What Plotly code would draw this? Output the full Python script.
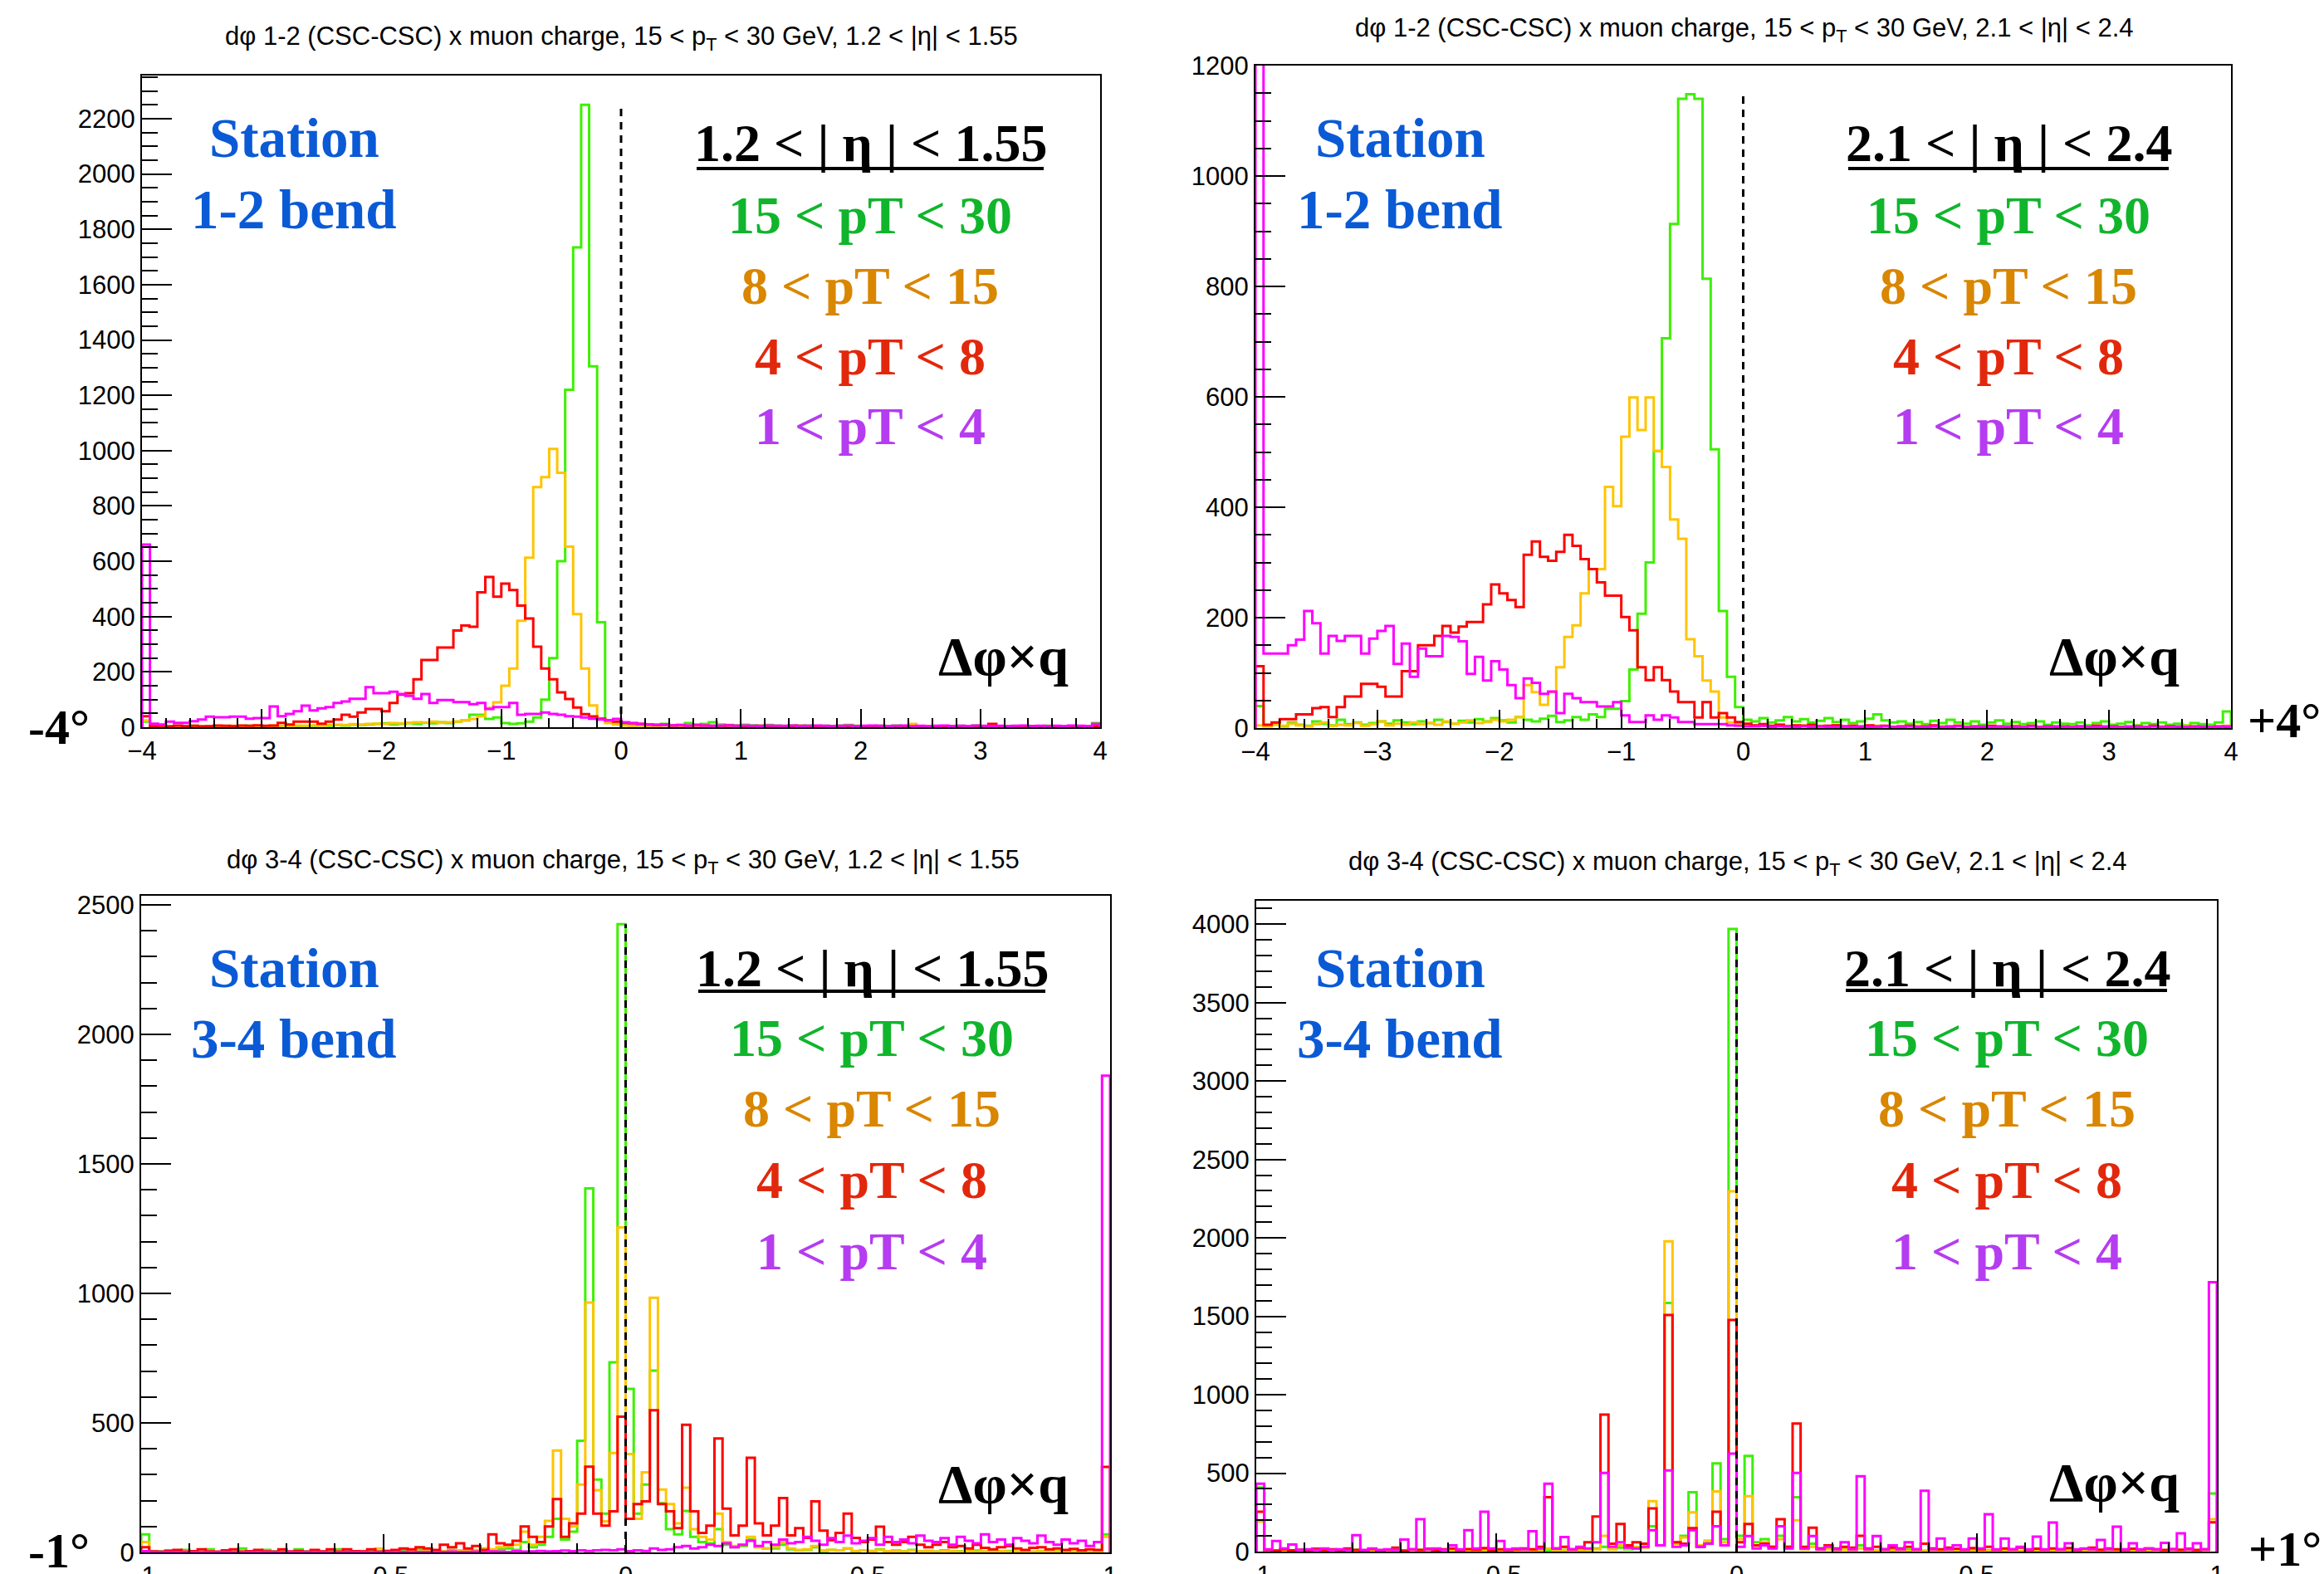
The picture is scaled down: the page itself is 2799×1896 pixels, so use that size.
import numpy as np
import plotly.graph_objects as go

W, H = 2799, 1896

# ---------------- data (120 bins per histogram) ----------------
# top row: d(phi) 1-2, range -4..4 ; bottom row: d(phi) 3-4, range -1..1
TL_GREEN = [20, 3, 2, 4, 3, 2, 5, 3, 2, 3, 4, 2, 3, 5, 3, 4, 3, 2, 4, 3,
            4, 5, 6, 5, 8, 6, 9, 8, 10, 12, 14, 10, 12, 15, 12, 16, 14, 18, 15, 20,
            25, 45, 45, 30, 35, 15, 12, 14, 20, 35, 100, 250, 600, 1220, 1735, 2250, 1305, 380, 25, 12,
            8, 6, 10, 5, 7, 12, 6, 8, 15, 9, 12, 18, 10, 8, 6, 9, 7, 5, 8, 6,
            4, 7, 5, 6, 3, 5, 4, 6, 8, 5, 4, 3, 5, 4, 6, 3, 5, 4, 3, 2,
            4, 3, 5, 3, 6, 4, 3, 2, 4, 3, 2, 4, 3, 5, 2, 3, 4, 2, 3, 15]
TL_ORANGE = [25, 2, 3, 2, 4, 3, 2, 3, 4, 2, 3, 5, 4, 3, 5, 4, 6, 5, 4, 6,
             5, 7, 6, 8, 9, 8, 11, 10, 12, 13, 12, 15, 14, 16, 18, 17, 20, 16, 18, 20,
             25, 30, 40, 70, 90, 150, 212, 385, 613, 868, 904, 1006, 920, 653, 409, 212, 79, 31, 15, 10,
             6, 4, 5, 3, 4, 6, 3, 5, 4, 3, 5, 4, 2, 3, 4, 3, 2, 4, 3, 2,
             3, 4, 2, 3, 5, 2, 3, 2, 4, 3, 2, 3, 2, 4, 2, 3, 12, 2, 3, 2,
             3, 2, 4, 2, 3, 2, 3, 2, 2, 3, 2, 4, 2, 3, 2, 2, 3, 2, 2, 5]
TL_RED = [40, 4, 5, 3, 6, 4, 5, 3, 4, 6, 5, 4, 6, 5, 7, 5, 6, 16, 10, 20,
          20, 20, 13, 20, 28, 45, 38, 53, 66, 66, 58, 88, 118, 123, 173, 243, 243, 288, 288, 350,
          368, 363, 488, 543, 472, 519, 496, 440, 393, 291, 212, 173, 126, 102, 71, 47, 39, 31, 25, 20,
          16, 14, 12, 10, 8, 9, 6, 7, 5, 8, 6, 5, 4, 6, 5, 4, 3, 5, 4, 3,
          4, 3, 5, 3, 4, 2, 3, 4, 2, 3, 4, 2, 3, 2, 4, 3, 2, 3, 2, 3,
          2, 3, 4, 2, 3, 2, 12, 3, 2, 3, 2, 4, 2, 3, 2, 2, 3, 2, 2, 4]
TL_MAGENTA = [660, 13, 10, 20, 16, 16, 22, 28, 38, 36, 36, 38, 38, 31, 33, 33, 75, 40, 48, 58,
              78, 61, 68, 73, 88, 93, 103, 103, 145, 123, 123, 128, 120, 113, 103, 120, 88, 98, 98, 91,
              91, 83, 88, 66, 73, 73, 88, 45, 48, 48, 53, 48, 45, 40, 38, 35, 31, 28, 25, 30,
              18, 15, 12, 10, 9, 8, 7, 8, 6, 7, 6, 5, 6, 7, 5, 6, 5, 4, 6, 5,
              5, 6, 4, 5, 6, 5, 4, 5, 6, 4, 5, 6, 5, 4, 5, 6, 4, 5, 4, 5,
              6, 4, 5, 4, 6, 5, 4, 5, 4, 5, 6, 4, 5, 4, 5, 4, 6, 5, 4, 12]

TR_GREEN = [40, 5, 8, 3, 10, 6, 4, 12, 8, 5, 15, 7, 10, 6, 9, 12, 8, 14, 10, 7,
            12, 9, 15, 11, 8, 13, 10, 16, 12, 18, 14, 10, 20, 15, 12, 17, 22, 11, 14, 20,
            15, 25, 20, 35, 35, 49, 106, 207, 300, 502, 706, 913, 1140, 1148, 1140, 814, 505, 212, 93, 38,
            15, 12, 18, 10, 14, 20, 12, 16, 10, 13, 18, 11, 15, 9, 12, 17, 25, 14, 10, 12,
            8, 11, 7, 13, 9, 15, 10, 8, 12, 6, 10, 14, 8, 11, 7, 9, 12, 6, 10, 8,
            7, 10, 5, 9, 12, 6, 8, 11, 5, 9, 7, 10, 6, 8, 5, 9, 7, 6, 10, 30]
TR_ORANGE = [5, 3, 6, 4, 8, 5, 3, 7, 10, 4, 6, 5, 9, 4, 7, 12, 5, 8, 6, 10,
             7, 9, 6, 12, 8, 10, 14, 9, 11, 15, 12, 15, 20, 78, 65, 42, 65, 110, 165, 186,
             244, 288, 288, 437, 402, 528, 599, 540, 599, 502, 473, 378, 343, 161, 130, 86, 66, 19, 10, 8,
             6, 4, 5, 3, 6, 4, 3, 5, 2, 4, 3, 5, 2, 4, 3, 2, 4, 3, 2, 3,
             2, 4, 3, 2, 3, 2, 4, 2, 3, 2, 3, 2, 2, 4, 2, 3, 2, 2, 3, 2,
             3, 2, 2, 4, 2, 3, 2, 2, 3, 2, 2, 3, 2, 2, 4, 2, 2, 3, 2, 4]
TR_RED = [112, 6, 10, 16, 16, 25, 25, 36, 38, 20, 38, 57, 57, 80, 80, 75, 57, 57, 103, 103,
          150, 150, 167, 185, 173, 184, 192, 192, 224, 260, 244, 232, 219, 314, 338, 310, 303, 319, 350, 330,
          306, 288, 264, 240, 240, 201, 177, 110, 87, 110, 87, 66, 47, 47, 19, 47, 19, 27, 19, 11,
          8, 5, 7, 4, 6, 3, 5, 4, 6, 3, 4, 5, 3, 4, 2, 5, 3, 4, 2, 3,
          4, 2, 3, 5, 2, 3, 4, 2, 3, 2, 4, 3, 2, 3, 2, 4, 2, 3, 2, 3,
          2, 3, 2, 4, 2, 3, 2, 2, 3, 2, 4, 2, 3, 2, 2, 3, 2, 2, 3, 2]
TR_MAGENTA = [1500, 135, 135, 135, 150, 160, 212, 190, 135, 167, 158, 167, 167, 135, 162, 176, 185, 116, 153, 93,
              144, 130, 130, 167, 165, 157, 98, 129, 86, 121, 106, 78, 54, 90, 82, 62, 66, 27, 62, 54,
              47, 47, 39, 39, 47, 23, 11, 11, 23, 15, 23, 19, 11, 11, 7, 7, 7, 7, 5, 4,
              3, 3, 4, 2, 3, 3, 2, 3, 2, 3, 2, 2, 3, 2, 3, 2, 2, 3, 2, 2,
              3, 2, 2, 3, 2, 2, 3, 2, 2, 3, 2, 2, 3, 2, 2, 3, 2, 2, 3, 2,
              2, 3, 2, 2, 3, 2, 2, 3, 2, 2, 3, 2, 2, 3, 2, 2, 3, 2, 2, 3]

BL_GREEN = [70, 5, 3, 8, 2, 10, 4, 3, 12, 2, 5, 3, 15, 4, 2, 10, 3, 6, 2, 12,
            3, 8, 2, 5, 12, 3, 4, 2, 10, 3, 6, 2, 8, 4, 12, 3, 5, 2, 10, 4,
            8, 5, 15, 6, 12, 15, 10, 40, 20, 30, 60, 130, 50, 80, 431, 1405, 281, 150, 734, 2425,
            631, 150, 262, 702, 190, 90, 70, 160, 60, 40, 35, 90, 30, 20, 25, 50, 20, 15, 15, 30,
            12, 8, 10, 20, 6, 10, 8, 15, 5, 8, 6, 12, 4, 7, 5, 10, 4, 6, 3, 8,
            4, 5, 3, 7, 3, 5, 2, 6, 3, 4, 2, 5, 3, 4, 2, 3, 4, 2, 3, 70]
BL_ORANGE = [40, 3, 2, 4, 2, 5, 3, 2, 6, 2, 3, 2, 4, 3, 2, 5, 2, 3, 2, 4,
             2, 3, 5, 2, 4, 2, 3, 6, 2, 15, 3, 4, 2, 5, 3, 8, 4, 6, 5, 8,
             6, 10, 15, 12, 20, 25, 30, 80, 30, 60, 122, 393, 130, 100, 262, 965, 240, 120, 384, 1255,
             380, 130, 309, 983, 243, 187, 112, 250, 90, 60, 50, 150, 40, 25, 30, 60, 20, 15, 20, 40,
             15, 10, 12, 25, 8, 10, 8, 15, 6, 8, 5, 10, 5, 6, 4, 8, 4, 5, 3, 6,
             4, 3, 5, 3, 4, 2, 5, 3, 4, 2, 3, 4, 2, 3, 2, 4, 3, 2, 5, 60]
BL_RED = [20, 4, 3, 6, 10, 3, 5, 12, 4, 3, 8, 12, 3, 5, 10, 4, 3, 12, 4, 6,
          3, 10, 4, 12, 3, 12, 5, 4, 12, 3, 6, 10, 15, 12, 20, 15, 10, 30, 20, 35,
          15, 25, 10, 70, 35, 30, 45, 100, 60, 40, 100, 206, 60, 112, 150, 331, 150, 103, 159, 524,
          130, 187, 197, 549, 187, 159, 94, 493, 159, 75, 103, 440, 169, 66, 103, 365, 112, 66, 103, 210,
          66, 94, 56, 197, 84, 47, 75, 150, 56, 40, 50, 99, 40, 30, 40, 60, 30, 20, 30, 40,
          20, 25, 15, 30, 18, 12, 20, 25, 15, 10, 18, 20, 12, 15, 10, 14, 8, 12, 10, 330]
BL_MAGENTA = [5, 2, 1, 2, 1, 2, 1, 1, 2, 1, 2, 1, 1, 2, 1, 2, 1, 1, 2, 1,
              2, 1, 2, 1, 1, 2, 1, 2, 1, 1, 2, 1, 2, 1, 2, 2, 1, 2, 3, 2,
              2, 3, 2, 4, 3, 2, 5, 3, 4, 6, 4, 5, 7, 5, 8, 6, 8, 10, 8, 12,
              5, 8, 6, 15, 10, 12, 20, 25, 15, 20, 30, 25, 35, 20, 30, 45, 25, 40, 30, 50,
              35, 40, 60, 45, 30, 55, 40, 65, 35, 45, 55, 30, 60, 40, 50, 35, 65, 45, 40, 55,
              30, 60, 45, 35, 70, 40, 50, 30, 55, 45, 35, 65, 40, 30, 50, 35, 45, 25, 40, 1840]

BR_GREEN = [409, 8, 5, 12, 4, 10, 6, 3, 14, 5, 8, 4, 11, 6, 3, 9, 5, 12, 4, 7,
            10, 5, 8, 3, 12, 6, 4, 9, 15, 5, 7, 10, 4, 8, 12, 5, 9, 6, 11, 7,
            10, 10, 20, 30, 15, 25, 15, 20, 30, 161, 40, 1585, 60, 100, 378, 40, 60, 563, 80, 3970,
            100, 610, 60, 80, 30, 100, 30, 347, 25, 50, 20, 30, 15, 25, 15, 40, 12, 8, 14, 10,
            6, 12, 8, 5, 10, 7, 4, 9, 6, 12, 5, 8, 4, 10, 6, 3, 8, 5, 9, 4,
            7, 5, 10, 4, 6, 8, 3, 9, 5, 7, 4, 6, 8, 3, 5, 7, 4, 6, 5, 371]
BR_ORANGE = [192, 4, 3, 6, 2, 5, 3, 8, 2, 4, 6, 3, 5, 2, 7, 3, 4, 6, 2, 5,
             3, 7, 4, 2, 6, 3, 5, 8, 4, 3, 6, 2, 5, 7, 3, 4, 20, 5, 8, 4,
             6, 10, 15, 100, 15, 40, 20, 30, 25, 322, 40, 1978, 50, 90, 250, 40, 70, 384, 60, 2297,
             80, 353, 40, 60, 20, 80, 20, 200, 15, 30, 10, 15, 8, 12, 6, 20, 5, 8, 6, 4,
             5, 3, 6, 4, 8, 3, 5, 2, 6, 4, 3, 5, 2, 7, 3, 4, 6, 2, 5, 3,
             4, 2, 6, 3, 5, 2, 4, 3, 6, 2, 5, 3, 4, 2, 6, 3, 2, 5, 3, 207]
BR_RED = [254, 10, 6, 15, 8, 12, 5, 18, 9, 14, 7, 20, 10, 6, 16, 8, 12, 25, 7, 15,
          10, 18, 8, 14, 20, 9, 16, 12, 22, 8, 15, 10, 15, 20, 15, 30, 347, 20, 30, 15,
          25, 60, 223, 873, 50, 176, 40, 60, 50, 275, 40, 1508, 60, 50, 150, 30, 50, 254, 40, 1477,
          60, 176, 40, 50, 30, 207, 30, 817, 30, 152, 20, 40, 20, 30, 25, 100, 20, 30, 15, 25,
          20, 30, 15, 50, 20, 15, 25, 18, 12, 22, 15, 30, 12, 20, 15, 25, 10, 18, 12, 20,
          15, 22, 10, 18, 25, 12, 20, 15, 10, 18, 12, 20, 15, 10, 16, 12, 18, 10, 14, 186]
BR_MAGENTA = [433, 15, 68, 20, 45, 10, 15, 10, 20, 10, 15, 10, 105, 10, 20, 10, 15, 10, 77, 15,
              207, 15, 20, 10, 40, 15, 136, 20, 254, 20, 68, 15, 20, 15, 130, 20, 433, 20, 93, 15,
              30, 20, 60, 501, 30, 60, 25, 20, 30, 136, 40, 517, 30, 40, 136, 30, 50, 161, 40, 625,
              30, 99, 20, 40, 20, 161, 20, 501, 20, 99, 15, 30, 15, 60, 15, 480, 15, 99, 15, 40,
              15, 60, 15, 388, 15, 84, 15, 40, 15, 84, 20, 238, 15, 84, 15, 30, 15, 95, 15, 185,
              15, 53, 15, 20, 15, 74, 15, 159, 15, 53, 15, 20, 15, 55, 15, 117, 15, 53, 15, 1718]

TITLES = ["d\u03c6 1-2 (CSC-CSC) x muon charge, 15 < p<sub>T</sub> < 30 GeV, 1.2 < |\u03b7| < 1.55",
          "d\u03c6 1-2 (CSC-CSC) x muon charge, 15 < p<sub>T</sub> < 30 GeV, 2.1 < |\u03b7| < 2.4",
          "d\u03c6 3-4 (CSC-CSC) x muon charge, 15 < p<sub>T</sub> < 30 GeV, 1.2 < |\u03b7| < 1.55",
          "d\u03c6 3-4 (CSC-CSC) x muon charge, 15 < p<sub>T</sub> < 30 GeV, 2.1 < |\u03b7| < 2.4"]
STATION = ["1-2 bend", "1-2 bend", "3-4 bend", "3-4 bend"]
ETA = ["1.2 < | \u03b7 | < 1.55", "2.1 < | \u03b7 | < 2.4", "1.2 < | \u03b7 | < 1.55", "2.1 < | \u03b7 | < 2.4"]
PT_LABELS = ["15 < pT < 30", "8 < pT < 15", "4 < pT < 8", "1 < pT < 4"]
CORNERS = ["-4\u00b0", "+4\u00b0", "-1\u00b0", "+1\u00b0"]

LINE_COLORS = ["#3DF000", "#FFC400", "#FF0000", "#FF00FF"]
TEXT_COLORS = ["#10B52C", "#D98600", "#E2280C", "#B53CF0"]
BLUE = "#0A5AD6"

panels = [
    dict(data=[TL_GREEN, TL_ORANGE, TL_RED, TL_MAGENTA], xr=(-4, 4), yr=2356, ydt=200, ymin=50,
         xdt=1, xmin=0.2, box=(171, 1325, 91, 876)),
    dict(data=[TR_GREEN, TR_ORANGE, TR_RED, TR_MAGENTA], xr=(-4, 4), yr=1200, ydt=200, ymin=50,
         xdt=1, xmin=0.2, box=(1512, 2687, 79, 877)),
    dict(data=[BL_GREEN, BL_ORANGE, BL_RED, BL_MAGENTA], xr=(-1, 1), yr=2535, ydt=500, ymin=100,
         xdt=0.5, xmin=0.1, box=(170, 1337, 1079, 1870)),
    dict(data=[BR_GREEN, BR_ORANGE, BR_RED, BR_MAGENTA], xr=(-1, 1), yr=4150, ydt=500, ymin=100,
         xdt=0.5, xmin=0.1, box=(1513, 2670, 1085, 1869)),
]

# text placement (pixel centres) per panel
title_pos = [(748, 46), (2100, 36), (750, 1038), (2092, 1040)]
station_pos = [(354, 166, 252), (1686, 166, 252), (354, 1166, 1251), (1686, 1166, 1251)]
block_x = [1048, 2419, 1050, 2417]
block_y = [[173, 259, 345, 430, 514]] * 2 + [[1166, 1250, 1335, 1421, 1507]] * 2
underline = [(839, 1257, 203), (2226, 2612, 203), (841, 1259, 1194), (2223, 2610, 1193)]
dphi_pos = [(1208, 790), (2546, 790), (1208, 1787), (2546, 1785)]
corner_pos = [(71, 876), (2751, 868), (71, 1868), (2752, 1866)]


def px(x):
    return x / W


def py(y):
    return 1 - y / H


fig = go.Figure()
annotations = []
shapes = []
layout_axes = {}

for i, p in enumerate(panels):
    n = i + 1
    xa = "x" if n == 1 else f"x{n}"
    ya = "y" if n == 1 else f"y{n}"
    xname = "xaxis" if n == 1 else f"xaxis{n}"
    yname = "yaxis" if n == 1 else f"yaxis{n}"
    x0, x1, yt, yb = p["box"]
    edges = np.linspace(p["xr"][0], p["xr"][1], 121)
    for vals, col in zip(p["data"], LINE_COLORS):
        xs = [edges[0]] + list(edges[:120]) + [edges[120], edges[120]]
        ys = [0] + list(vals) + [vals[-1], 0]
        fig.add_trace(go.Scatter(x=xs, y=ys, mode="lines", line=dict(color=col, width=3, shape="hv"),
                                 xaxis=xa, yaxis=ya, hoverinfo="skip", showlegend=False))
    tickfont = dict(family="Liberation Sans, Arial, sans-serif", size=31, color="black")
    layout_axes[xname] = dict(domain=[px(x0), px(x1)], range=list(p["xr"]), anchor=ya,
                              tick0=0, dtick=p["xdt"], ticks="inside", ticklen=22, tickwidth=2,
                              tickcolor="black", automargin=False,
                              minor=dict(dtick=p["xmin"], tick0=0, ticks="inside", ticklen=11,
                                         tickwidth=2, tickcolor="black", showgrid=False),
                              showline=True, linewidth=2, linecolor="black", mirror=True,
                              showgrid=False, zeroline=False, tickfont=tickfont, fixedrange=True)
    layout_axes[yname] = dict(domain=[py(yb), py(yt)], range=[0, p["yr"]], anchor=xa,
                              tick0=0, dtick=p["ydt"], ticks="inside", ticklen=36, tickwidth=2,
                              tickcolor="black", automargin=False,
                              minor=dict(dtick=p["ymin"], tick0=0, ticks="inside", ticklen=19,
                                         tickwidth=2, tickcolor="black", showgrid=False),
                              showline=True, linewidth=2, linecolor="black", mirror=True,
                              showgrid=False, zeroline=False, tickfont=tickfont, fixedrange=True)
    # dashed zero line up to the maximum of the high-pT histogram
    shapes.append(dict(type="line", xref=xa, yref=ya, x0=0, x1=0, y0=0, y1=max(p["data"][0]),
                       line=dict(color="black", width=3, dash="9px,7px")))
    # title
    annotations.append(dict(text=TITLES[i], x=px(title_pos[i][0]), y=py(title_pos[i][1]),
                            xref="paper", yref="paper", showarrow=False, xanchor="center",
                            yanchor="middle",
                            font=dict(family="Liberation Sans, Arial, sans-serif", size=31,
                                      color="black")))
    serif = "Liberation Serif, Times New Roman, serif"
    sx, sy1, sy2 = station_pos[i]
    for txt, yy in (("Station", sy1), (STATION[i], sy2)):
        annotations.append(dict(text=f"<b>{txt}</b>", x=px(sx), y=py(yy), xref="paper", yref="paper",
                                showarrow=False, xanchor="center", yanchor="middle",
                                font=dict(family=serif, size=67, color=BLUE)))
    rows = [ETA[i]] + PT_LABELS
    cols = ["black"] + TEXT_COLORS
    for txt, yy, c in zip(rows, block_y[i], cols):
        annotations.append(dict(text=f"<b>{txt}</b>", x=px(block_x[i]), y=py(yy), xref="paper",
                                yref="paper", showarrow=False, xanchor="center", yanchor="middle",
                                font=dict(family=serif, size=64, color=c)))
    ux0, ux1, uy = underline[i]
    shapes.append(dict(type="line", xref="paper", yref="paper", x0=px(ux0), x1=px(ux1),
                       y0=py(uy), y1=py(uy), line=dict(color="black", width=4)))
    annotations.append(dict(text="<b>\u0394\u03c6\u00d7q</b>", x=px(dphi_pos[i][0]), y=py(dphi_pos[i][1]),
                            xref="paper", yref="paper", showarrow=False, xanchor="center",
                            yanchor="middle", font=dict(family=serif, size=66, color="black")))
    annotations.append(dict(text=f"<b>{CORNERS[i]}</b>", x=px(corner_pos[i][0]), y=py(corner_pos[i][1]),
                            xref="paper", yref="paper", showarrow=False, xanchor="center",
                            yanchor="middle", font=dict(family=serif, size=60, color="black")))

fig.update_layout(width=W, height=H, margin=dict(l=0, r=0, t=0, b=0, autoexpand=False),
                  paper_bgcolor="white", plot_bgcolor="white", showlegend=False,
                  annotations=annotations, shapes=shapes, **layout_axes)

fig.write_html("out.html")
